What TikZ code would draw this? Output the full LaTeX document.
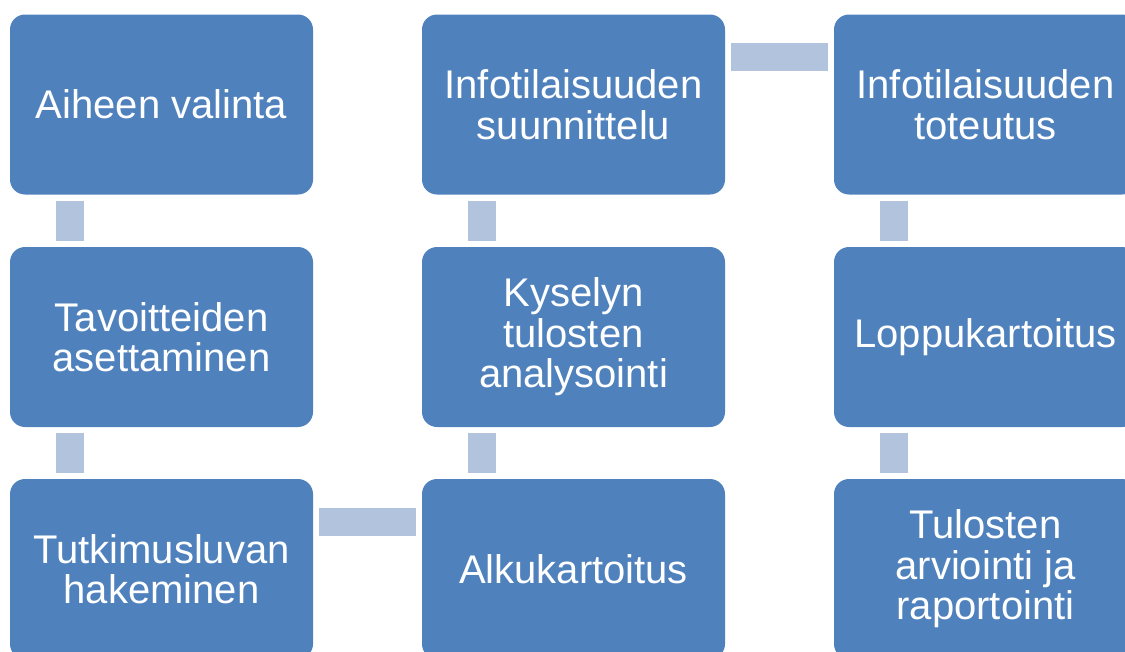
\documentclass[tikz,border=0pt]{standalone}
\usepackage{fontspec}
\setmainfont{Liberation Sans}
\usetikzlibrary{calc}
\definecolor{boxblue}{HTML}{4F81BD}
\definecolor{linkblue}{HTML}{B2C3DE}
\tikzset{
  stepbox/.style={rectangle, rounded corners=15pt, fill=boxblue, draw=none,
    minimum width=303pt, minimum height=180pt, inner sep=0pt,
    text=white, align=center,
    font=\fontsize{40pt}{40.5pt}\selectfont},
  linkbar/.style={draw=linkblue, line width=28pt, line cap=butt,
    shorten <=6pt, shorten >=6pt}
}
\begin{document}
\begin{tikzpicture}[x=1pt,y=-1pt]
\useasboundingbox (0,0) rectangle (1125,651);
\clip (0,0) rectangle (1125,651);
% column 1
\node[stepbox] (a) at (161.5,104.5) {Aiheen valinta};
\node[stepbox] (b) at (161.5,337) {Tavoitteiden\\asettaminen};
\node[stepbox] (c) at (161.5,569) {Tutkimusluvan\\hakeminen};
% column 2
\node[stepbox] (d) at (573.5,569) {Alkukartoitus};
\node[stepbox] (e) at (573.5,337) {Kyselyn\\tulosten\\analysointi};
\node[stepbox] (f) at (573.5,104.5) {Infotilaisuuden\\suunnittelu};
% column 3
\node[stepbox] (g) at (985.5,104.5) {Infotilaisuuden\\toteutus};
\node[stepbox] (h) at (985.5,337) {Loppukartoitus};
\node[stepbox] (i) at (985.5,569) {Tulosten\\arviointi ja\\raportointi};
% connectors
\draw[linkbar] ($(a.south west)+(60,0)$) -- ($(b.north west)+(60,0)$);
\draw[linkbar] ($(b.south west)+(60,0)$) -- ($(c.north west)+(60,0)$);
\draw[linkbar] ($(c.north east)+(0,43)$) -- ($(d.north west)+(0,43)$);
\draw[linkbar] ($(d.north west)+(60,0)$) -- ($(e.south west)+(60,0)$);
\draw[linkbar] ($(e.north west)+(60,0)$) -- ($(f.south west)+(60,0)$);
\draw[linkbar] ($(f.north east)+(0,43)$) -- ($(g.north west)+(0,43)$);
\draw[linkbar] ($(g.south west)+(60,0)$) -- ($(h.north west)+(60,0)$);
\draw[linkbar] ($(h.south west)+(60,0)$) -- ($(i.north west)+(60,0)$);
\end{tikzpicture}
\end{document}
